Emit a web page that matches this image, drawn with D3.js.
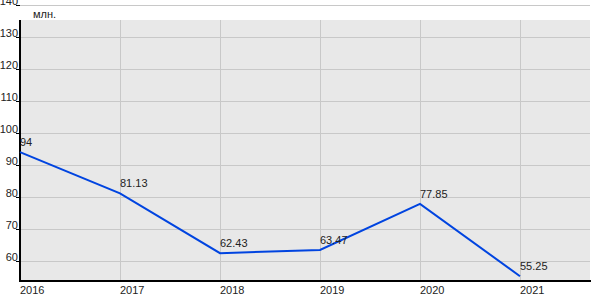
<!DOCTYPE html>
<html><head><meta charset="utf-8">
<script src="https://cdn.jsdelivr.net/npm/d3@7"></script>
<style>body{margin:0;background:#fff}text{font-family:"Liberation Sans",Arial,sans-serif}</style>
</head><body>
<svg id="c" width="600" height="300"></svg>
<script>
const years = [2016, 2017, 2018, 2019, 2020, 2021];
const values = [94, 81.13, 62.43, 63.47, 77.85, 55.25];
const valueLabels = ["94", "81.13", "62.43", "63.47", "77.85", "55.25"];
const yTicks = [60, 70, 80, 90, 100, 110, 120, 130, 140];
const unitLabel = "млн.";

const svg = d3.select("#c");
const x = d3.scaleLinear().domain([2016, 2021.7]).range([20, 590]);
const y = d3.scaleLinear().domain([53.75, 140]).range([281, 5]);
const plotTop = 20;

svg.append("rect").attr("x", x(2016)).attr("y", plotTop)
  .attr("width", x(2021.7) - x(2016)).attr("height", y(53.75) - plotTop)
  .attr("fill", "#e8e8e8");

svg.selectAll(".hg").data(yTicks).join("line")
  .attr("x1", x(2016)).attr("x2", x(2021.7))
  .attr("y1", d => Math.round(y(d)) + 0.5).attr("y2", d => Math.round(y(d)) + 0.5)
  .attr("stroke", "#c8c8c8").attr("stroke-width", 1);
svg.selectAll(".vg").data(years.slice(1)).join("line")
  .attr("x1", d => Math.round(x(d)) + 0.5).attr("x2", d => Math.round(x(d)) + 0.5)
  .attr("y1", plotTop).attr("y2", y(53.75))
  .attr("stroke", "#c8c8c8").attr("stroke-width", 1);

svg.selectAll(".yt").data(yTicks).join("line")
  .attr("x1", 16).attr("x2", 20)
  .attr("y1", d => Math.round(y(d)) + 0.5).attr("y2", d => Math.round(y(d)) + 0.5)
  .attr("stroke", "#000").attr("stroke-width", 1);
svg.selectAll(".yl").data(yTicks).join("text")
  .attr("x", 18).attr("y", d => y(d) - 0.5)
  .attr("text-anchor", "end").attr("font-size", 11).attr("fill", "#222")
  .text(d => d);

svg.append("text").attr("x", 33).attr("y", 18).attr("font-size", 11).attr("fill", "#222").text(unitLabel);

svg.append("line").attr("x1", 20).attr("x2", 20).attr("y1", plotTop).attr("y2", 282)
  .attr("stroke", "#000").attr("stroke-width", 2);
svg.append("line").attr("x1", 19).attr("x2", 591).attr("y1", 281).attr("y2", 281)
  .attr("stroke", "#000").attr("stroke-width", 2);

svg.selectAll(".xl").data(years).join("text")
  .attr("x", d => x(d)).attr("y", 294)
  .attr("font-size", 11).attr("fill", "#222")
  .text(d => d);

const line = d3.line().x((d, i) => x(years[i])).y(d => y(d));
svg.append("path").datum(values).attr("d", line)
  .attr("fill", "none").attr("stroke", "#0044e0").attr("stroke-width", 2);

svg.selectAll(".vl").data(values).join("text")
  .attr("x", (d, i) => x(years[i])).attr("y", d => y(d) - 6)
  .attr("font-size", 11).attr("fill", "#222")
  .text((d, i) => valueLabels[i]);
</script>
</body></html>
